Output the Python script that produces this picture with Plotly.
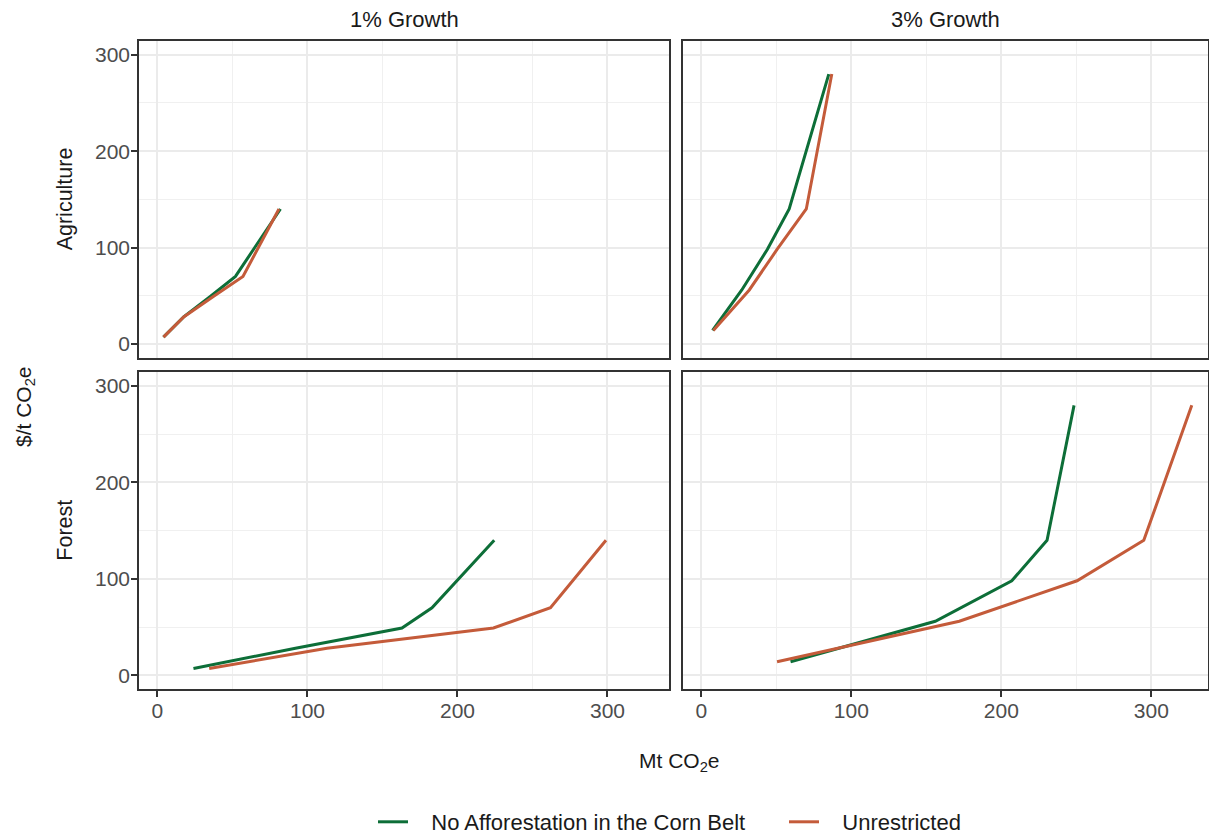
import plotly.graph_objects as go

# ---- data ----
price_1pct = [7, 28, 49, 70, 140]
price_3pct = [14, 56, 98, 140, 280]

ag_1_noaff = [4, 17.5, 35, 52, 82]
ag_1_unres = [4, 17.5, 37, 57, 81]
ag_3_noaff = [7.5, 27, 44, 58.6, 85]
ag_3_unres = [8, 32, 50.5, 70, 87]
fo_1_noaff = [24, 92, 163, 183, 224.5]
fo_1_unres = [34.5, 113, 224, 262, 299]
fo_3_noaff = [59.5, 156, 207, 230.5, 248.5]
fo_3_unres = [50.5, 172, 250.5, 295, 327]

series_names = ["\u00a0\u00a0\u00a0No Afforestation in the Corn Belt", "\u00a0\u00a0\u00a0Unrestricted"]
col_labels = ["1% Growth", "3% Growth"]
row_labels = ["Agriculture", "Forest"]
x_ticks = [0, 100, 200, 300]
y_ticks = [0, 100, 200, 300]

GREEN = "#0D6E38"
ORANGE = "#C45B3A"
FONT = "Liberation Sans, Arial, sans-serif"

fig = go.Figure()

panels = [
    ("x", "y", price_1pct, ag_1_noaff, ag_1_unres, True),
    ("x2", "y2", price_3pct, ag_3_noaff, ag_3_unres, False),
    ("x3", "y3", price_1pct, fo_1_noaff, fo_1_unres, False),
    ("x4", "y4", price_3pct, fo_3_noaff, fo_3_unres, False),
]
for xa, ya, price, noaff, unres, show in panels:
    fig.add_trace(go.Scatter(x=noaff, y=price, mode="lines", name=series_names[0],
                             line=dict(color=GREEN, width=3), xaxis=xa, yaxis=ya,
                             showlegend=show, legendgroup="a"))
    fig.add_trace(go.Scatter(x=unres, y=price, mode="lines", name=series_names[1],
                             line=dict(color=ORANGE, width=3), xaxis=xa, yaxis=ya,
                             showlegend=show, legendgroup="b"))

W, H = 1209, 835
L, R, T, B = 139, 1, 41, 146
pw = W - L - R
ph = H - T - B

def px_x(p):
    return (p - L) / pw

def px_y(p):
    return (H - B - p) / ph

xl = [0, px_x(669)]
xr = [px_x(683.3), 1]
yt = [px_y(357.7), 1]
yb = [0, px_y(372.3)]

grid = "#EBEBEB"
axis_common = dict(
    showline=True, linecolor="#333333", linewidth=1.5, mirror=True,
    showgrid=True, gridcolor=grid, gridwidth=1.6, zeroline=False,
    minor=dict(dtick=50, tick0=0, showgrid=True, gridcolor="#F0F0F0", gridwidth=0.8, ticks=""),
    tickfont=dict(family=FONT, size=21, color="#4D4D4D"),
    tickcolor="#333333", tickwidth=1.5, ticklen=6,
)

def xax(domain, anchor, show_labels, rng):
    d = dict(axis_common)
    d.update(domain=domain, anchor=anchor, range=rng, tickvals=x_ticks,
             showticklabels=show_labels, ticks="outside" if show_labels else "",
             ticklabelstandoff=-4)
    return d

def yax(domain, anchor, show_labels):
    d = dict(axis_common)
    d.update(domain=domain, anchor=anchor, range=[-14.3, 314.3], tickvals=y_ticks,
             showticklabels=show_labels, ticks="outside" if show_labels else "",
             ticklabelstandoff=-3)
    return d

rng_l = [-12.3, 341]
rng_r = [-12.0, 337.8]

fig.update_layout(
    width=W, height=H,
    margin=dict(l=L, r=R, t=T, b=B, autoexpand=False),
    paper_bgcolor="white", plot_bgcolor="white",
    font=dict(family=FONT, color="#1A1A1A"),
    xaxis=xax(xl, "y", False, rng_l),
    xaxis2=xax(xr, "y2", False, rng_r),
    xaxis3=xax(xl, "y3", True, rng_l),
    xaxis4=xax(xr, "y4", True, rng_r),
    yaxis=yax(yt, "x", True),
    yaxis2=yax(yt, "x2", False),
    yaxis3=yax(yb, "x3", True),
    yaxis4=yax(yb, "x4", False),
    legend=dict(orientation="h", x=px_x(373), xanchor="left", y=px_y(822), yanchor="middle",
                font=dict(family=FONT, size=22, color="#1A1A1A"), itemwidth=30,
                entrywidth=366, entrywidthmode="pixels", tracegroupgap=0),
    showlegend=True,
)

ann = []
ann.append(dict(text=col_labels[0], x=(xl[0] + xl[1]) / 2, y=px_y(20), size=22))
ann.append(dict(text=col_labels[1], x=(xr[0] + xr[1]) / 2, y=px_y(20), size=22))
ann.append(dict(text=row_labels[0], x=px_x(65), y=(yt[0] + yt[1]) / 2, textangle=-90, size=21.5))
ann.append(dict(text=row_labels[1], x=px_x(65), y=(yb[0] + yb[1]) / 2, textangle=-90, size=21.5))
ann.append(dict(text="$/t CO<sub>2</sub>e", x=px_x(25), y=px_y(407), textangle=-90, size=21))
ann.append(dict(text="Mt CO<sub>2</sub>e", x=px_x(679), y=px_y(762), size=21))
for a in ann:
    s = a.pop("size")
    a.update(xref="paper", yref="paper", showarrow=False, xanchor="center", yanchor="middle",
             font=dict(family=FONT, size=s, color="#1A1A1A"))
fig.update_layout(annotations=ann)

fig.write_html("out.html", config={"displayModeBar": False},
               post_script="document.body.style.margin='0';document.body.style.overflow='hidden';")
